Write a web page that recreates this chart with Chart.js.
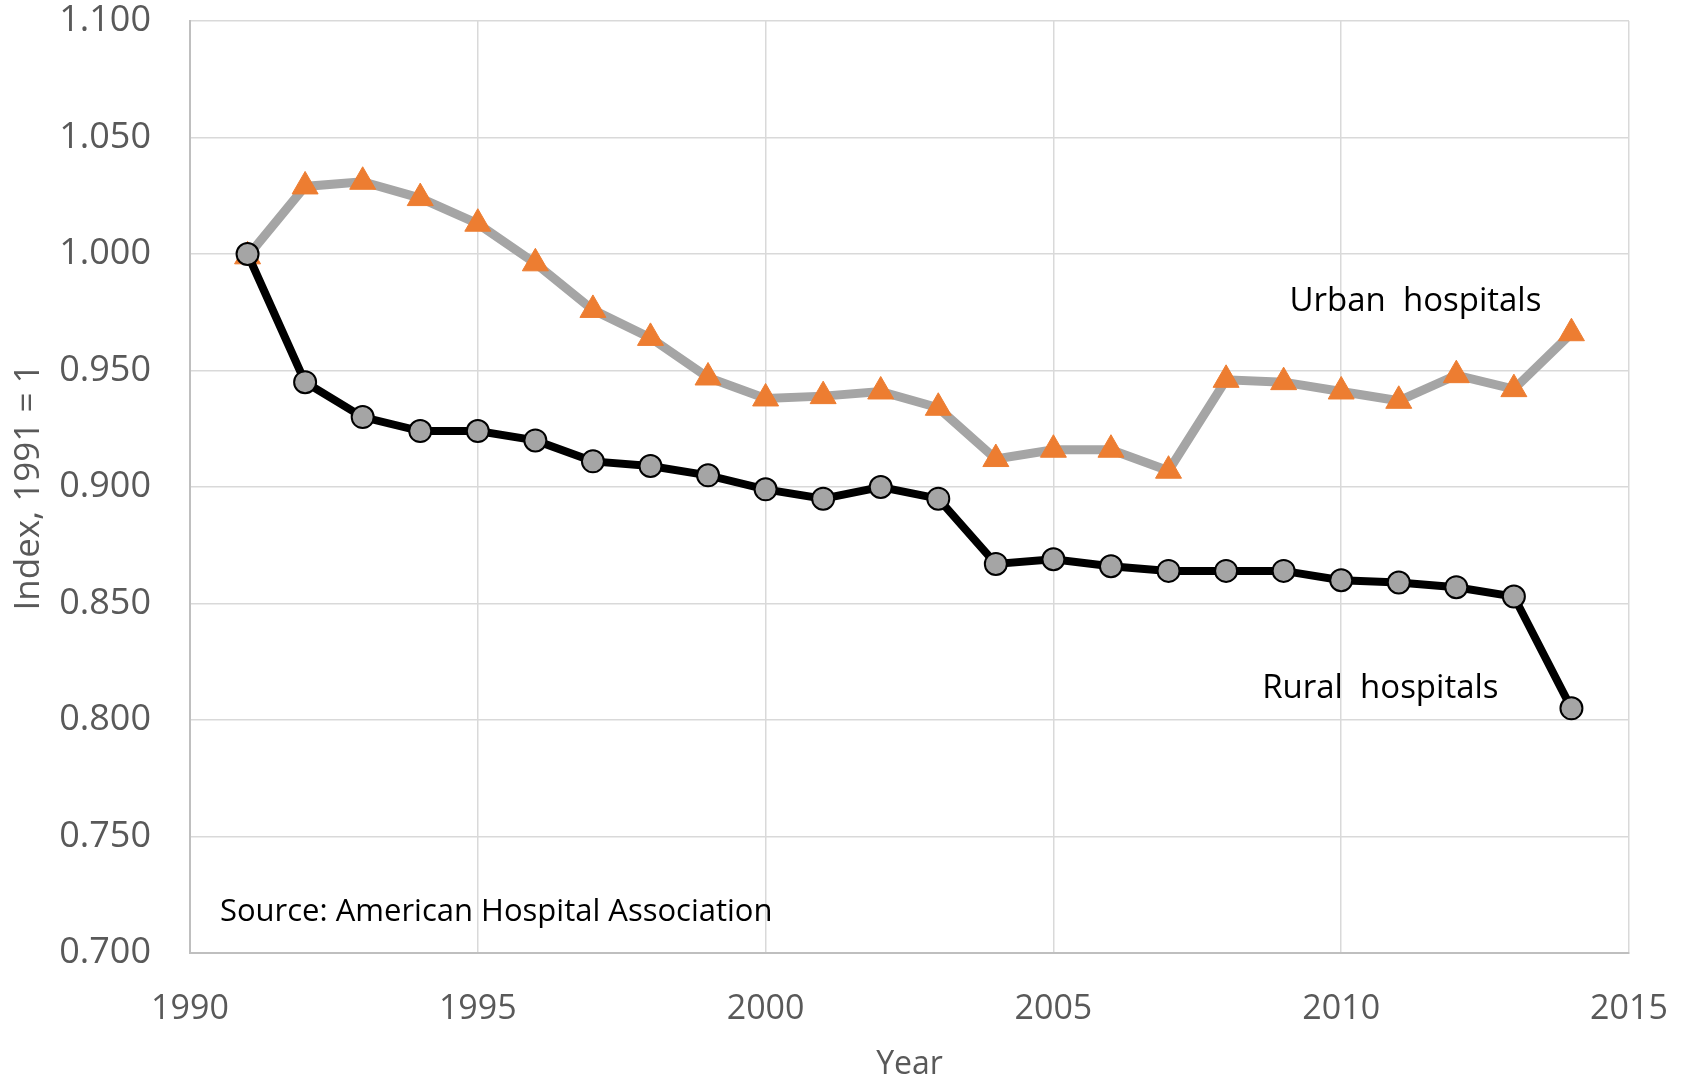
<!DOCTYPE html>
<html>
<head>
<meta charset="utf-8">
<script src="https://cdn.jsdelivr.net/npm/chart.js@4.4.1/dist/chart.umd.min.js"></script>
<style>
  html, body { margin: 0; padding: 0; background: #fff; }
  #wrap { width: 1686px; height: 1082px; }
</style>
</head>
<body>
<div id="wrap"><canvas id="chart" width="1686" height="1082"></canvas></div>
<script>
const years = [1991, 1992, 1993, 1994, 1995, 1996, 1997, 1998, 1999, 2000, 2001, 2002,
  2003, 2004, 2005, 2006, 2007, 2008, 2009, 2010, 2011, 2012, 2013, 2014];
const ruralIndex = [1.000, 0.945, 0.930, 0.924, 0.924, 0.920, 0.911, 0.909, 0.905, 0.899, 0.895, 0.900,
  0.895, 0.867, 0.869, 0.866, 0.864, 0.864, 0.864, 0.860, 0.859, 0.857, 0.853, 0.805];
const urbanIndex = [0.999, 1.029, 1.031, 1.024, 1.013, 0.996, 0.976, 0.964, 0.947, 0.938, 0.939, 0.941,
  0.934, 0.912, 0.916, 0.916, 0.907, 0.946, 0.945, 0.941, 0.937, 0.948, 0.942, 0.966];
const yearTicks = [1990, 1995, 2000, 2005, 2010, 2015];
const indexTicks = [0.700, 0.750, 0.800, 0.850, 0.900, 0.950, 1.000, 1.050, 1.100];

// text labels placed in data units
const notes = [
  { text: 'Urban  hospitals', year: 2011.29, value: 0.9795, align: 'center', size: 33 },
  { text: 'Rural  hospitals', year: 2010.68, value: 0.8133, align: 'center', size: 33 },
  { text: 'Source: American Hospital Association', year: 1990.52, value: 0.7175, align: 'left', size: 31 }
];

const toPoints = (vals) => vals.map((v, i) => ({ x: years[i], y: v }));

const notesPlugin = {
  id: 'notes',
  afterDatasetsDraw(chart) {
    const { ctx, scales } = chart;
    ctx.save();
    ctx.fillStyle = '#000';
    ctx.textBaseline = 'middle';
    for (const n of notes) {
      ctx.font = `${n.size}px "Open Sans"`;
      ctx.textAlign = n.align;
      ctx.fillText(n.text, scales.x.getPixelForValue(n.year), scales.y.getPixelForValue(n.value));
    }
    ctx.restore();
  }
};

const tickColor = '#595959';
const gridColor = '#d9d9d9';

new Chart(document.getElementById('chart').getContext('2d'), {
  type: 'line',
  data: {
    datasets: [
      {
        label: 'Rural hospitals',
        data: toPoints(ruralIndex),
        borderColor: '#000000',
        borderWidth: 8,
        pointStyle: 'circle',
        pointRadius: 11,
        pointBackgroundColor: '#a5a5a5',
        pointBorderColor: '#000000',
        pointBorderWidth: 2,
        tension: 0
      },
      {
        label: 'Urban hospitals',
        data: toPoints(urbanIndex),
        borderColor: '#a5a5a5',
        borderWidth: 9,
        pointStyle: 'triangle',
        pointRadius: 15,
        pointBackgroundColor: '#ed7d31',
        pointBorderColor: '#ed7d31',
        pointBorderWidth: 1,
        tension: 0
      }
    ]
  },
  options: {
    responsive: false,
    devicePixelRatio: 1,
    animation: false,
    layout: { padding: { top: 21, right: 57, left: 0, bottom: 0 } },
    plugins: {
      legend: { display: false },
      tooltip: { enabled: false }
    },
    scales: {
      x: {
        type: 'linear',
        min: 1990,
        max: 2015,
        afterBuildTicks: (scale) => { scale.ticks = yearTicks.map(v => ({ value: v })); },
        afterFit: (scale) => {
          scale.height = 129;
          scale.paddingLeft = 0;
          scale.paddingRight = 0;
        },
        ticks: {
          color: tickColor,
          font: { family: 'Open Sans', size: 34 },
          padding: 36,
          maxRotation: 0,
          callback: (v) => String(v)
        },
        grid: { color: gridColor, lineWidth: 1.5, drawTicks: false },
        border: { color: '#bfbfbf', width: 2 },
        title: {
          display: true,
          text: 'Year',
          color: tickColor,
          font: { family: 'Open Sans', size: 32, lineHeight: 1.0 },
          padding: { top: 0, bottom: 1 }
        }
      },
      y: {
        min: 0.7,
        max: 1.1,
        afterBuildTicks: (scale) => { scale.ticks = indexTicks.map(v => ({ value: v })); },
        afterFit: (scale) => {
          scale.width = 190;
          scale.paddingTop = 0;
          scale.paddingBottom = 0;
        },
        ticks: {
          color: tickColor,
          font: { family: 'Open Sans', size: 36 },
          padding: 39,
          callback: (v) => Number(v).toFixed(3)
        },
        grid: { color: gridColor, lineWidth: 1.5, drawTicks: false },
        border: { color: '#bfbfbf', width: 2 },
        title: {
          display: true,
          text: 'Index, 1991 = 1',
          color: tickColor,
          font: { family: 'Open Sans', size: 35 },
          padding: { top: 8, bottom: 0 }
        }
      }
    }
  },
  plugins: [notesPlugin]
});
</script>
</body>
</html>
